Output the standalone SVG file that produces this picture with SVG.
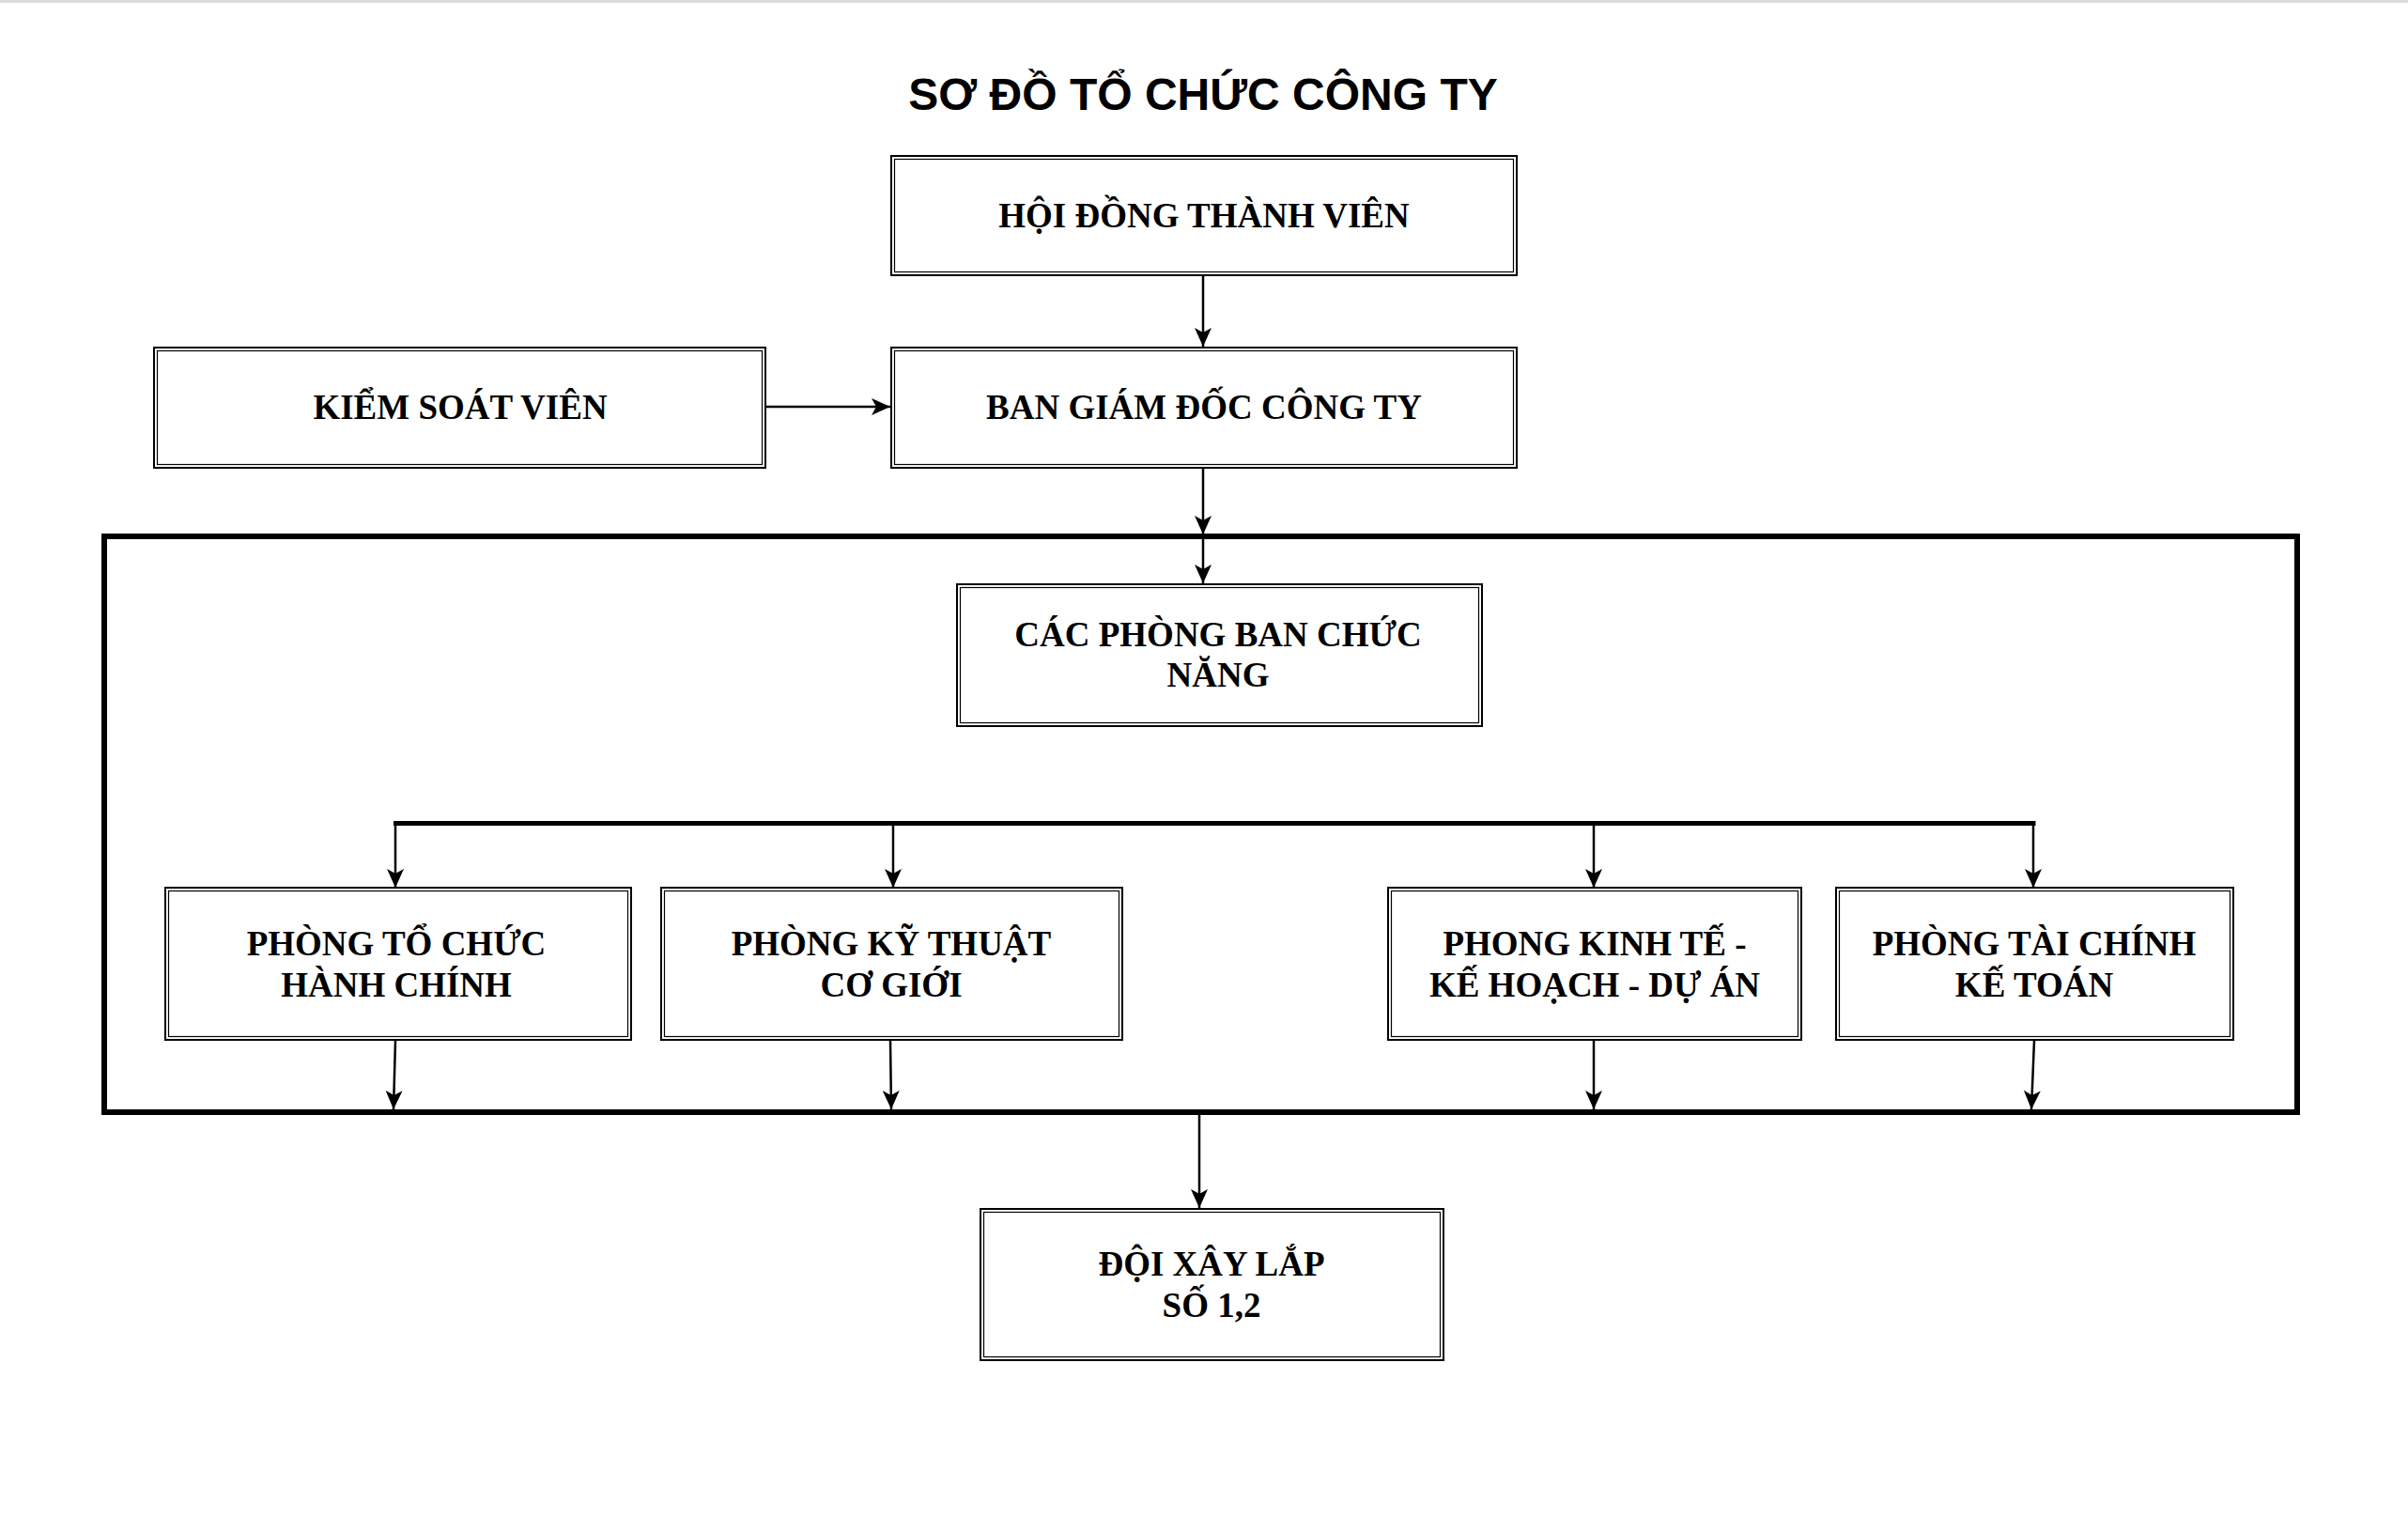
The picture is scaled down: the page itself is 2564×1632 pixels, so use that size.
<svg xmlns="http://www.w3.org/2000/svg" width="2564" height="1632" viewBox="0 0 2564 1632">
<style>
.o{fill:none;stroke:#000;stroke-width:2}
.i{fill:none;stroke:#000;stroke-width:1.2}
.t{font-family:"Liberation Serif","Times New Roman",serif;font-weight:bold;font-size:37px;fill:#000;text-anchor:middle}
.ttl{font-family:"Liberation Sans",Arial,sans-serif;font-weight:bold;font-size:48px;fill:#000;text-anchor:middle}
.c{fill:none;stroke:#000;stroke-width:2.5}
</style>
<defs>
<marker id="ah" viewBox="0 0 20 18" refX="20" refY="9" markerWidth="20" markerHeight="18" markerUnits="userSpaceOnUse" orient="auto">
<path d="M0,0 L20,9 L0,18 L5,9 z" fill="#000"/>
</marker>
</defs>
<rect x="0" y="0" width="2564" height="1632" fill="#fff"/>
<rect x="0" y="0" width="2564" height="3" fill="#dcdcdc"/>
<text class="ttl" x="1281" y="117">SƠ ĐỒ TỔ CHỨC CÔNG TY</text>

<g id="container">
<rect x="111" y="571" width="2335" height="613" fill="none" stroke="#000" stroke-width="6"/>
</g>

<g id="hdtv">
<rect class="o" x="949" y="166" width="666" height="127"/>
<rect class="i" x="952.5" y="169.5" width="659" height="120"/>
<text class="t" x="1282" y="242">HỘI ĐỒNG THÀNH VIÊN</text>
</g>
<g id="ksv">
<rect class="o" x="164" y="370" width="651" height="128"/>
<rect class="i" x="167.5" y="373.5" width="644" height="121"/>
<text class="t" x="490" y="446">KIỂM SOÁT VIÊN</text>
</g>
<g id="bgd">
<rect class="o" x="949" y="370" width="666" height="128"/>
<rect class="i" x="952.5" y="373.5" width="659" height="121"/>
<text class="t" x="1282" y="446">BAN GIÁM ĐỐC CÔNG TY</text>
</g>
<g id="cacphong">
<rect class="o" x="1019" y="622" width="559" height="151"/>
<rect class="i" x="1022.5" y="625.5" width="552" height="144"/>
<text class="t" x="1297" y="688">CÁC PHÒNG BAN CHỨC</text>
<text class="t" x="1297" y="731">NĂNG</text>
</g>
<g id="ptchc">
<rect class="o" x="176" y="945" width="496" height="162"/>
<rect class="i" x="179.5" y="948.5" width="489" height="155"/>
<text class="t" x="422" y="1017">PHÒNG TỔ CHỨC</text>
<text class="t" x="422" y="1061">HÀNH CHÍNH</text>
</g>
<g id="pktcg">
<rect class="o" x="704" y="945" width="491" height="162"/>
<rect class="i" x="707.5" y="948.5" width="484" height="155"/>
<text class="t" x="949" y="1017">PHÒNG KỸ THUẬT</text>
<text class="t" x="949" y="1061">CƠ GIỚI</text>
</g>
<g id="pkt">
<rect class="o" x="1478" y="945" width="440" height="162"/>
<rect class="i" x="1481.5" y="948.5" width="433" height="155"/>
<text class="t" x="1698" y="1017">PHONG KINH TẾ -</text>
<text class="t" x="1698" y="1061">KẾ HOẠCH - DỰ ÁN</text>
</g>
<g id="ptckt">
<rect class="o" x="1955" y="945" width="423" height="162"/>
<rect class="i" x="1958.5" y="948.5" width="416" height="155"/>
<text class="t" x="2166" y="1017">PHÒNG TÀI CHÍNH</text>
<text class="t" x="2166" y="1061">KẾ TOÁN</text>
</g>
<g id="dxl">
<rect class="o" x="1044" y="1287" width="493" height="161"/>
<rect class="i" x="1047.5" y="1290.5" width="486" height="154"/>
<text class="t" x="1290" y="1358">ĐỘI XÂY LẮP</text>
<text class="t" x="1290" y="1402">SỐ 1,2</text>
</g>

<g id="connectors">
<line class="c" x1="1281" y1="294" x2="1281" y2="369" marker-end="url(#ah)"/>
<line class="c" x1="816" y1="433" x2="948" y2="433" stroke-width="3" marker-end="url(#ah)"/>
<line class="c" x1="1281" y1="498" x2="1281" y2="569" marker-end="url(#ah)"/>
<line class="c" x1="1281" y1="573" x2="1281" y2="621" marker-end="url(#ah)"/>
<line x1="419" y1="876.5" x2="2167.5" y2="876.5" stroke="#000" stroke-width="5"/>
<line class="c" x1="421" y1="876" x2="421" y2="945" marker-end="url(#ah)"/>
<line class="c" x1="951" y1="876" x2="951" y2="945" marker-end="url(#ah)"/>
<line class="c" x1="1697" y1="876" x2="1697" y2="945" marker-end="url(#ah)"/>
<line class="c" x1="2165" y1="876" x2="2165" y2="945" marker-end="url(#ah)"/>
<line class="c" x1="421" y1="1108" x2="419" y2="1181" marker-end="url(#ah)"/>
<line class="c" x1="948" y1="1108" x2="949" y2="1181" marker-end="url(#ah)"/>
<line class="c" x1="1697" y1="1108" x2="1697" y2="1181" marker-end="url(#ah)"/>
<line class="c" x1="2166" y1="1108" x2="2163" y2="1181" marker-end="url(#ah)"/>
<line class="c" x1="1277" y1="1187" x2="1277" y2="1286" marker-end="url(#ah)"/>
</g>
</svg>
